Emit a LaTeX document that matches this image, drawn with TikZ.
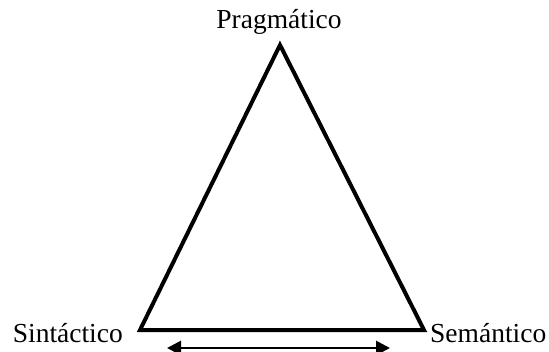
\documentclass[tikz,border=0pt]{standalone}
\usepackage{fontspec}
\setmainfont{Liberation Serif}
\usetikzlibrary{arrows.meta}
\begin{document}
\begin{tikzpicture}[x=1pt,y=-1pt,
  lbl/.style={font=\fontsize{27.5}{32}\selectfont, inner sep=0pt},
  tri/.style={line width=4pt, line join=miter},
  dbl/.style={line width=2.8pt, {Triangle[length=14pt,width=14pt]}-{Triangle[length=14pt,width=14pt]}}]
\useasboundingbox (0,0) rectangle (549,351);
\coordinate (top) at (280,45);
\coordinate (bl) at (140,330);
\coordinate (br) at (424,330);
\draw[tri] (top) -- (bl) -- (br) -- cycle;
\node[lbl] (p) at (279,22) {Pragmático};
\node[lbl, anchor=east] (s) at (123,333) {Sintáctico};
\node[lbl, anchor=west] (m) at (430,333) {Semántico};
\coordinate (al) at (167,348);
\coordinate (ar) at (390,348);
\draw[dbl] (al) -- (ar);
\end{tikzpicture}
\end{document}
